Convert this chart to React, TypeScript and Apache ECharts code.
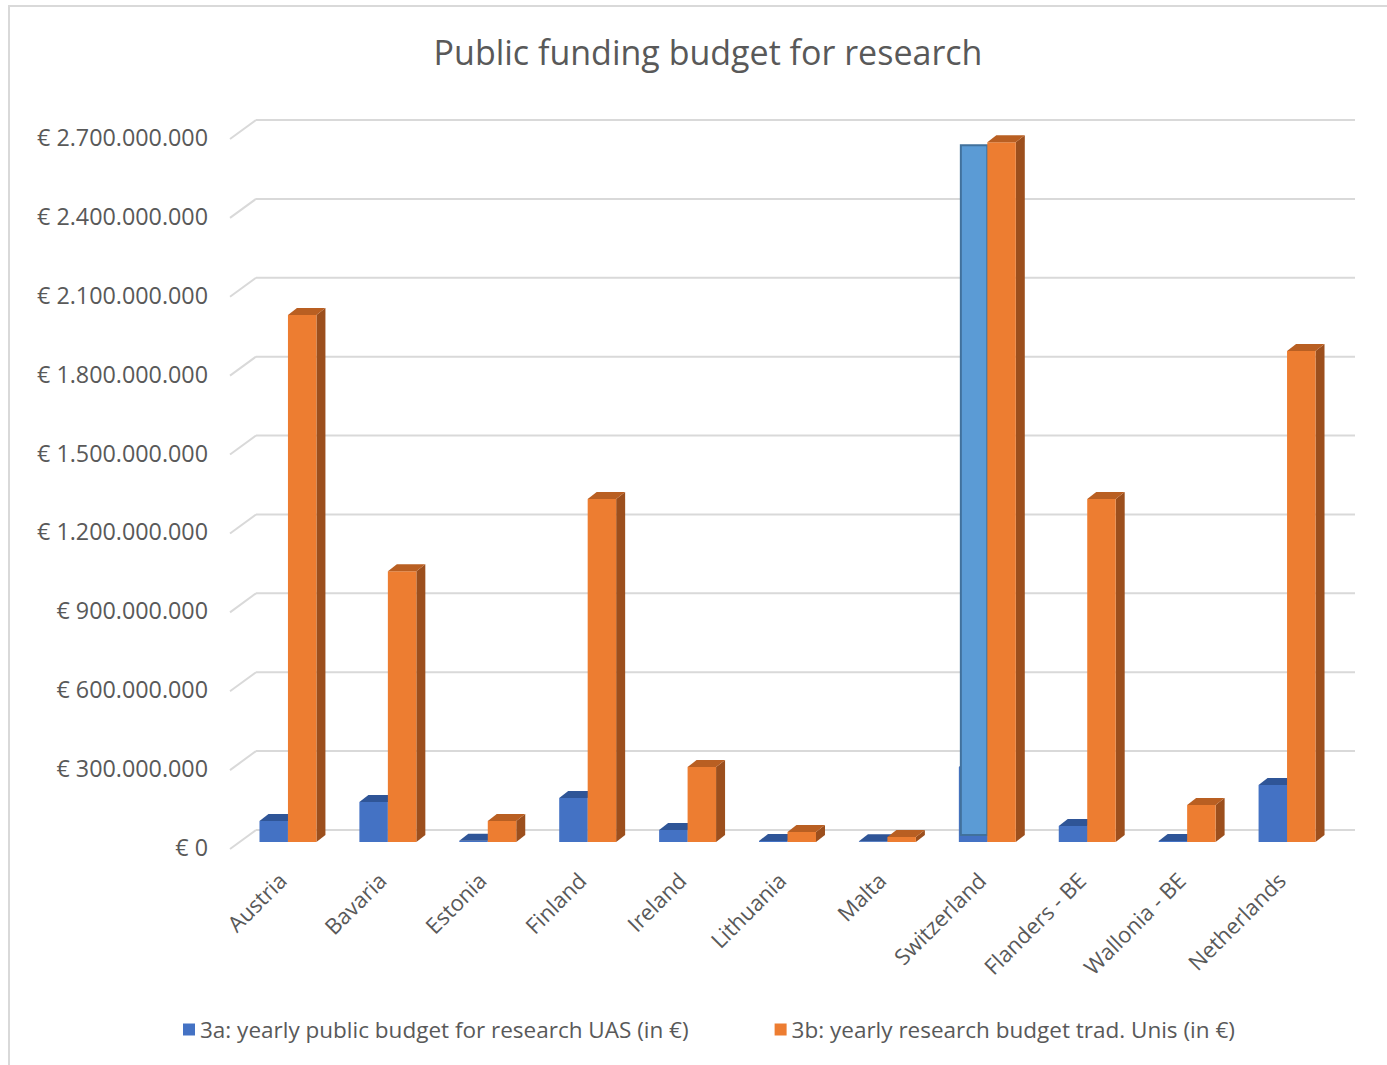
import React, { useEffect, useRef } from "react";
import * as echarts from "echarts";

const categories = ["Austria", "Bavaria", "Estonia", "Finland", "Ireland", "Lithuania", "Malta", "Switzerland", "Flanders - BE", "Wallonia - BE", "Netherlands"];
const uasBudget = [80e6, 152e6, 5e6, 167e6, 46e6, 4e6, 3e6, 285e6, 61e6, 4e6, 217e6];
const uniBudget = [2004e6, 1030e6, 80e6, 1304e6, 285e6, 38e6, 19e6, 2661e6, 1304e6, 141e6, 1867e6];
const swissHighlight = [[7, 2650e6]];
const yTicks = [0, 300e6, 600e6, 900e6, 1200e6, 1500e6, 1800e6, 2100e6, 2400e6, 2700e6];
const seriesNames = ["3a: yearly public budget for research UAS (in €)", "3b: yearly research budget trad. Unis (in €)"];
const titleText = "Public funding budget for research";

const DX = 9;
const DY = -7;
const LABEL_COLOR = "#595959";
const FONT = "Open Sans";

function fmtEuro(v: number): string {
  const s = Math.round(v).toString().replace(/\B(?=(\d{3})+(?!\d))/g, ".");
  return "€ " + s;
}

function makeBar(side: number, front: string, top: string, sideC: string) {
  return (params: any, api: any) => {
    const idx = api.value(0);
    const v = api.value(1);
    const base = api.coord([idx, 0]);
    const tip = api.coord([idx, v]);
    const band = api.size([1, 0])[0];
    const w = band * 0.285;
    const x0 = side < 0 ? base[0] - w : base[0];
    const x1 = x0 + w;
    const yb = base[1];
    const yt = tip[1];
    return {
      type: "group",
      children: [
        { type: "polygon", shape: { points: [[x1, yb], [x1 + DX, yb + DY], [x1 + DX, yt + DY], [x1, yt]] }, style: { fill: sideC } },
        { type: "rect", shape: { x: x0, y: yt, width: w, height: Math.max(0, yb - yt) }, style: { fill: front } },
        { type: "polygon", shape: { points: [[x0, yt], [x0 + DX, yt + DY], [x1 + DX, yt + DY], [x1, yt]] }, style: { fill: top } },
      ],
    };
  };
}

export default function App() {
  const ref = useRef<HTMLDivElement>(null);
  useEffect(() => {
    if (!ref.current) return;
    const chart = echarts.init(ref.current, null, { renderer: "svg" });
    const option: any = {
      animation: false,
      backgroundColor: "#ffffff",
      title: {
        text: titleText,
        left: 703,
        top: 30,
        textAlign: "center",
        textStyle: { fontFamily: FONT, fontSize: 34, fontWeight: "normal", color: LABEL_COLOR },
      },
      grid: { left: 238, right: 50, top: 132, bottom: 223, containLabel: false },
      legend: {
        left: 178,
        top: 1013,
        icon: "rect",
        itemWidth: 12,
        itemHeight: 12,
        itemGap: 86,
        data: seriesNames,
        textStyle: { fontFamily: FONT, fontSize: 22.5, color: LABEL_COLOR },
      },
      xAxis: {
        type: "category",
        data: categories,
        axisLine: { show: false },
        axisTick: { show: false },
        splitLine: { show: false },
        axisLabel: { show: false },
      },
      yAxis: {
        type: "value",
        min: 0,
        max: 2700e6,
        interval: 300e6,
        axisLine: { show: false },
        axisTick: { show: false },
        splitLine: { show: false },
        axisLabel: { show: false },
      },
      graphic: [
        { type: "rect", shape: { x: 9, y: 6, width: 1400, height: 1080 }, style: { fill: "none", stroke: "#d9d9d9", lineWidth: 2 }, z: -10, silent: true },
      ],
      series: [
        {
          type: "custom",
          name: "gridlines",
          data: yTicks.map((t) => [0, t]),
          encode: { x: 0, y: 1 },
          z: 1,
          silent: true,
          renderItem: (params: any, api: any) => {
            const cs = params.coordSys;
            const v = api.value(1);
            const y = api.coord([0, v])[1];
            const style = { stroke: "#d9d9d9", lineWidth: 2, fill: "none" };
            return {
              type: "group",
              children: [
                { type: "line", shape: { x1: cs.x - 8, y1: y + 7, x2: cs.x + 18, y2: y - 12 }, style },
                { type: "line", shape: { x1: cs.x + 18, y1: y - 12, x2: cs.x + cs.width + 18, y2: y - 12 }, style },
                {
                  type: "text",
                  x: cs.x - 30,
                  y: y + 5,
                  style: { text: fmtEuro(v), align: "right", verticalAlign: "middle", fontFamily: FONT, fontSize: 23.3, fill: LABEL_COLOR },
                },
              ],
            };
          },
        },
        {
          type: "custom",
          name: "categoryLabels",
          data: categories.map((c, i) => [i, 0]),
          encode: { x: 0, y: 1 },
          z: 1,
          silent: true,
          renderItem: (params: any, api: any) => {
            const idx = api.value(0);
            const p = api.coord([idx, 0]);
            return {
              type: "text",
              x: p[0] - 6,
              y: p[1] + 34,
              rotation: Math.PI / 4,
              style: { text: categories[idx], align: "right", verticalAlign: "middle", fontFamily: FONT, fontSize: 22, fill: LABEL_COLOR },
            };
          },
        },
        {
          type: "custom",
          name: seriesNames[0],
          data: uasBudget.map((v, i) => [i, v]),
          encode: { x: 0, y: 1 },
          z: 2,
          itemStyle: { color: "#4472C4" },
          renderItem: makeBar(-1, "#4472C4", "#2F5597", "#2F5597"),
        },
        {
          type: "custom",
          name: "highlight",
          data: swissHighlight,
          encode: { x: 0, y: 1 },
          z: 3,
          renderItem: (params: any, api: any) => {
            const idx = api.value(0);
            const base = api.coord([idx, 0]);
            const tip = api.coord([idx, api.value(1)]);
            const w = api.size([1, 0])[0] * 0.285;
            return {
              type: "rect",
              shape: { x: base[0] - w + 2, y: tip[1], width: w - 2, height: base[1] - 7 - tip[1] },
              style: { fill: "#5B9BD5", stroke: "#41719C", lineWidth: 2 },
            };
          },
        },
        {
          type: "custom",
          name: seriesNames[1],
          data: uniBudget.map((v, i) => [i, v]),
          encode: { x: 0, y: 1 },
          z: 4,
          itemStyle: { color: "#ED7D31" },
          renderItem: makeBar(1, "#ED7D31", "#B95F22", "#9C4F1D"),
        },
      ],
    };
    chart.setOption(option);
    return () => chart.dispose();
  }, []);
  return <div ref={ref} style={{ position: "fixed", left: 0, top: 0, width: 1387, height: 1065 }} />;
}
